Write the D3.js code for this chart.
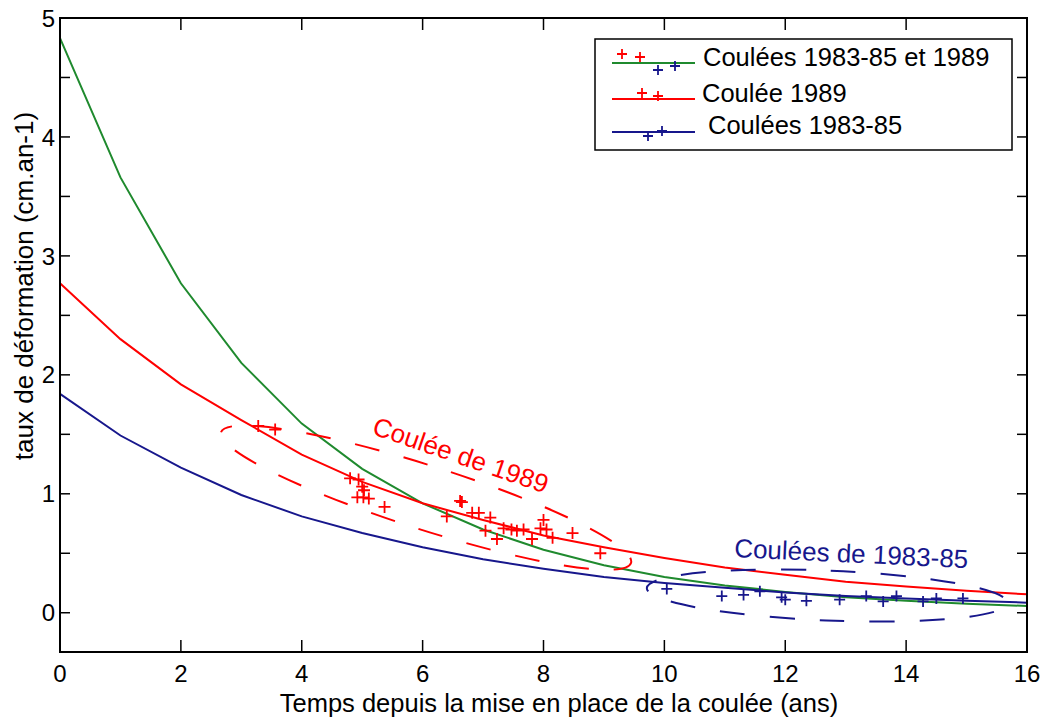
<!DOCTYPE html>
<html><head><meta charset="utf-8">
<script src="https://cdn.jsdelivr.net/npm/d3@7"></script>
<style>
body{margin:0;background:#fff}
svg{display:block}
text{font-family:"Liberation Sans",Arial,Helvetica,sans-serif}
</style>
</head><body>
<svg id="chart" width="1048" height="720"></svg>
<script>
// ---------------- data ----------------
const years = [0,1,2,3,4,5,6,7,8,9,10,11,12,13,14,15,16];
const fitAll    = [4.83,3.66,2.77,2.10,1.59,1.21,0.92,0.70,0.53,0.40,0.30,0.23,0.175,0.13,0.10,0.075,0.057];
const fit1989   = [2.77,2.30,1.92,1.62,1.33,1.10,0.92,0.78,0.65,0.55,0.46,0.38,0.32,0.26,0.22,0.185,0.155];
const fit198385 = [1.84,1.49,1.22,0.99,0.81,0.67,0.55,0.45,0.37,0.30,0.25,0.21,0.17,0.14,0.12,0.10,0.085];

const obs1989T = [3.28,3.56,4.80,4.94,5.00,5.03,4.92,5.02,5.11,5.37,6.40,6.62,6.65,6.82,6.93,7.12,7.04,7.23,7.34,7.47,7.56,7.67,7.81,8.00,7.95,8.05,8.15,8.48,8.94];
const obs1989V = [1.57,1.54,1.13,1.12,1.06,1.03,0.97,0.97,0.96,0.89,0.81,0.94,0.93,0.84,0.84,0.80,0.69,0.62,0.71,0.70,0.69,0.70,0.62,0.78,0.71,0.70,0.63,0.67,0.50];
const obs8385T = [10.04,10.95,11.31,11.58,11.94,12.00,12.35,12.90,13.34,13.62,13.84,14.28,14.50,14.94];
const obs8385V = [0.20,0.14,0.15,0.18,0.13,0.11,0.10,0.11,0.14,0.095,0.14,0.095,0.12,0.12];

const xTicks = [0,2,4,6,8,10,12,14,16];
const yTicks = [0,0.5,1,1.5,2,2.5,3,3.5,4,4.5,5];
const yLabelled = [0,1,2,3,4,5];

const xTitle = "Temps depuis la mise en place de la coulée (ans)";
const yTitle = "taux de déformation (cm.an-1)";
const legendLabels = ["Coulées 1983-85 et 1989","Coulée 1989","Coulées 1983-85"];
const note1989 = "Coulée de 1989";
const note8385 = "Coulées de 1983-85";
// ellipse tips (data coords) around each group
const ell1989 = [[2.664,1.517],[9.448,0.418]];
const ell8385 = [[9.71,0.208],[15.68,0.082]];
const note1989Pos = [5.146,1.505];
const note8385Pos = [11.15,0.468];

// ---------------- style ----------------
const GREEN = "#1f8a2e", RED = "#ff0000", BLUE = "#17178c";
const svg = d3.select("#chart");
const L = 60, R = 1027, T = 18, B = 652;
const x = d3.scaleLinear().domain([0,16]).range([L,R]);
const y = d3.scaleLinear().domain([-0.33,5]).range([B,T]);

// ---------------- curves ----------------
const line = d3.line().x((d,i)=>x(years[i])).y(d=>y(d)).curve(d3.curveLinear);
[[fitAll,GREEN],[fit1989,RED],[fit198385,BLUE]].forEach(([vals,col])=>{
  svg.append("path").attr("d",line(vals)).attr("fill","none")
     .attr("stroke",col).attr("stroke-width",2);
});

// ---------------- markers ----------------
function plus(g,cx,cy,s,col){
  g.append("path").attr("d",`M${cx-s},${cy}H${cx+s}M${cx},${cy-s}V${cy+s}`)
   .attr("stroke",col).attr("stroke-width",1.8).attr("fill","none");
}
const gm = svg.append("g");
obs1989T.forEach((t,i)=>plus(gm,x(t),y(obs1989V[i]),6,RED));
obs8385T.forEach((t,i)=>plus(gm,x(t),y(obs8385V[i]),5.5,BLUE));

// ---------------- ellipses ----------------
function ellipse(tips,halfW,col){
  const p1=[x(tips[0][0]),y(tips[0][1])], p2=[x(tips[1][0]),y(tips[1][1])];
  const a=Math.hypot(p2[0]-p1[0],p2[1]-p1[1])/2;
  const ang=Math.atan2(p2[1]-p1[1],p2[0]-p1[0])*180/Math.PI;
  svg.append("path")
    .attr("d",`M${p1[0]},${p1[1]}A${a},${halfW} ${ang} 0 1 ${p2[0]},${p2[1]}A${a},${halfW} ${ang} 0 1 ${p1[0]},${p1[1]}Z`)
    .attr("fill","none").attr("stroke",col).attr("stroke-width",2)
    .attr("stroke-dasharray","25,25").attr("stroke-dashoffset",12);
}
ellipse(ell1989,32,RED);
ellipse(ell8385,25,BLUE);

// annotations
svg.append("text").attr("transform",`translate(${x(note1989Pos[0])},${y(note1989Pos[1])}) rotate(19)`)
  .attr("font-size",26).attr("fill",RED).text(note1989);
svg.append("text").attr("transform",`translate(${x(note8385Pos[0])},${y(note8385Pos[1])}) rotate(2.7)`)
  .attr("font-size",26).attr("fill",BLUE).text(note8385);

// ---------------- axes (box, inward ticks) ----------------
const ax = svg.append("g");
ax.append("rect").attr("x",L).attr("y",T).attr("width",R-L).attr("height",B-T)
  .attr("fill","none").attr("stroke","#000").attr("stroke-width",2);
xTicks.forEach(v=>{
  ax.append("line").attr("x1",x(v)).attr("x2",x(v)).attr("y1",B).attr("y2",B-12).attr("stroke","#000").attr("stroke-width",1.5);
  ax.append("line").attr("x1",x(v)).attr("x2",x(v)).attr("y1",T).attr("y2",T+12).attr("stroke","#000").attr("stroke-width",1.5);
  ax.append("text").attr("x",x(v)).attr("y",682).attr("text-anchor","middle").attr("font-size",24).text(v);
});
yTicks.forEach(v=>{
  ax.append("line").attr("x1",L).attr("x2",L+10).attr("y1",y(v)).attr("y2",y(v)).attr("stroke","#000").attr("stroke-width",1.5);
  ax.append("line").attr("x1",R).attr("x2",R-10).attr("y1",y(v)).attr("y2",y(v)).attr("stroke","#000").attr("stroke-width",1.5);
});
yLabelled.forEach(v=>{
  ax.append("text").attr("x",55).attr("y",y(v)).attr("dy","0.36em").attr("text-anchor","end").attr("font-size",24).text(v);
});
svg.append("text").attr("x",559).attr("y",712).attr("text-anchor","middle").attr("font-size",25.5).text(xTitle);
svg.append("text").attr("transform","translate(33,286) rotate(-90)").attr("text-anchor","middle").attr("font-size",26).text(yTitle);

// ---------------- legend ----------------
const lg = svg.append("g").attr("transform","translate(595,39)");
lg.append("rect").attr("width",417).attr("height",111).attr("fill","#fff").attr("stroke","#000").attr("stroke-width",1.5);
const rows = [
  {y:24, line:GREEN, marks:[[27,15,RED],[45,18,RED],[63,31,BLUE],[80,27,BLUE]], tx:108},
  {y:60, line:RED,   marks:[[47,54,RED],[63,57,RED]], tx:107},
  {y:93, line:BLUE,  marks:[[53,97,BLUE],[67,92,BLUE]], tx:113}
];
rows.forEach((r,i)=>{
  lg.append("line").attr("x1",17).attr("x2",100).attr("y1",r.y).attr("y2",r.y).attr("stroke",r.line).attr("stroke-width",2);
  r.marks.forEach(m=>plus(lg,m[0],m[1],5,m[2]));
  lg.append("text").attr("x",r.tx).attr("y",[27,63,95][i]).attr("font-size",25.5).text(legendLabels[i]);
});
</script>
</body></html>
